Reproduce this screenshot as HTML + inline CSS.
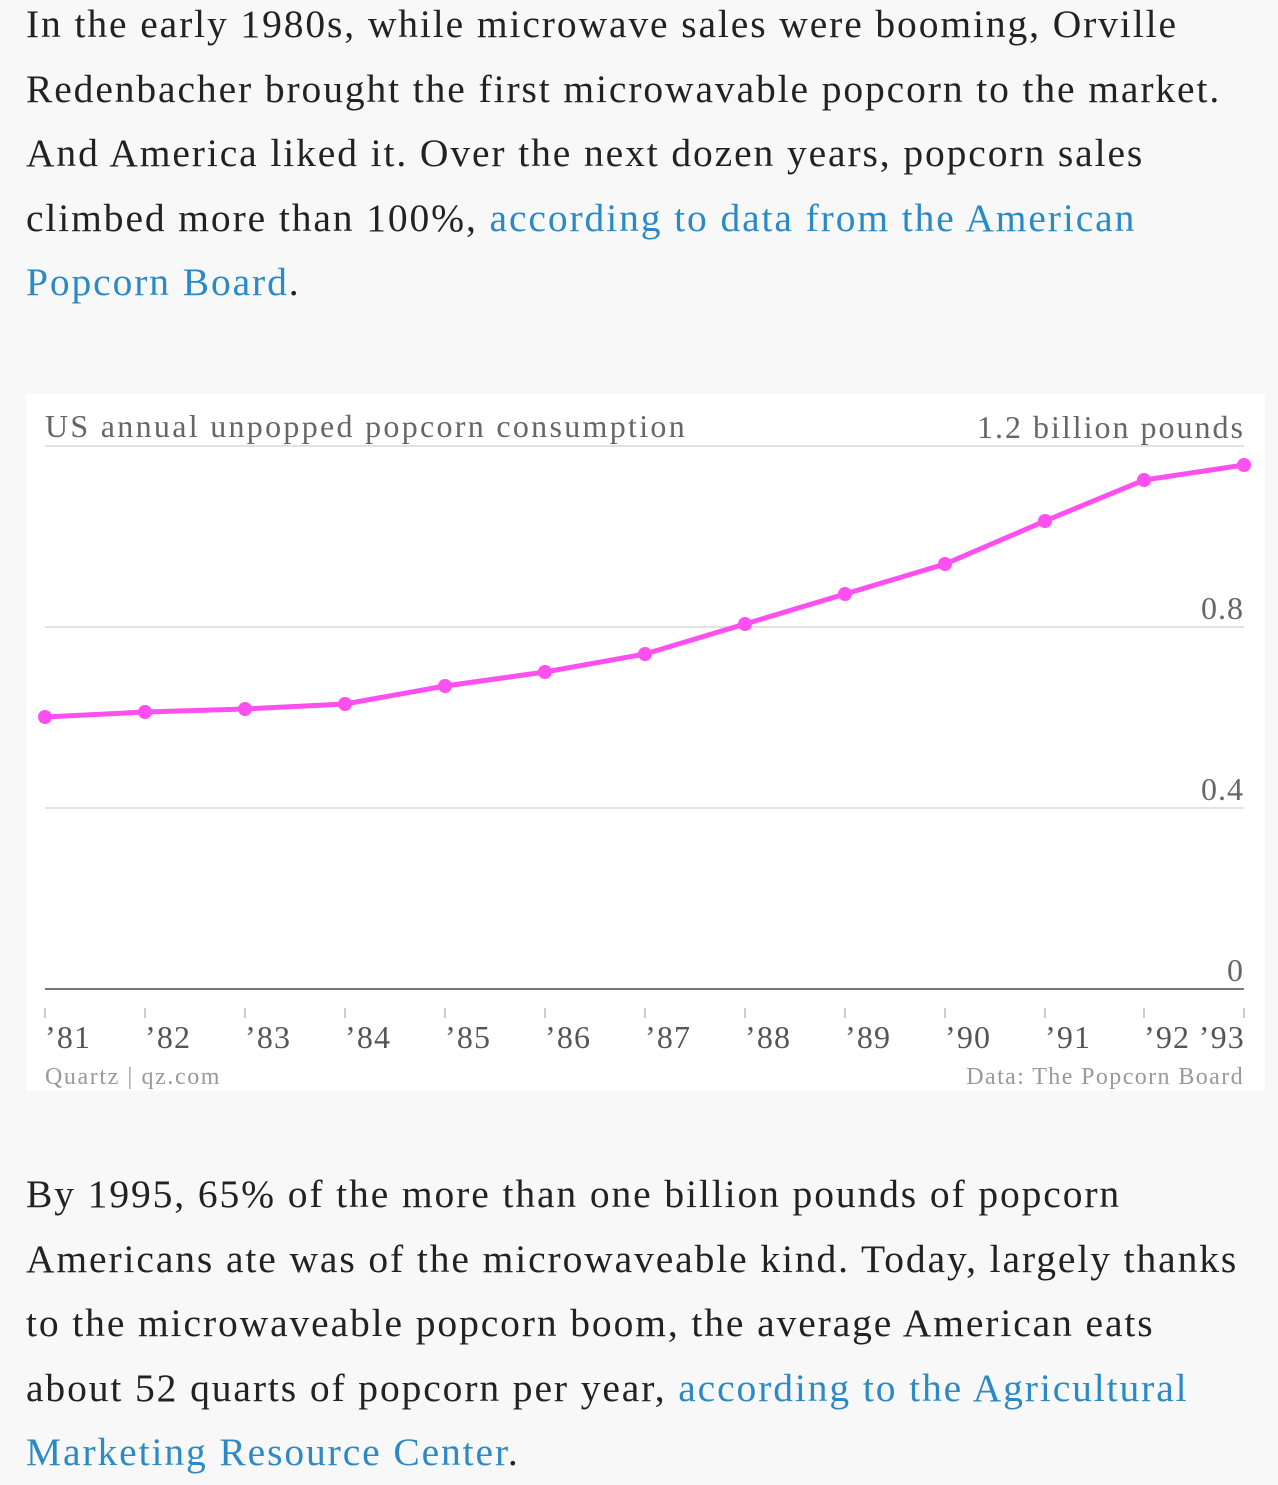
<!DOCTYPE html>
<html><head><style>
body{margin:0;width:1278px;height:1480px;background:#f8f8f8;overflow:hidden;font-family:"Liberation Serif",serif;color:#222;}
.p{position:absolute;left:26px;font-size:39.5px;letter-spacing:1.9px;line-height:64.5px;width:1252px;white-space:nowrap;}
a{color:#2b8ac6;text-decoration:none}
</style></head><body>
<div class="p" style="top:-8px">In the early 1980s, while microwave sales were booming, Orville<br>Redenbacher brought the first microwavable popcorn to the market.<br>And America liked it. Over the next dozen years, popcorn sales<br>climbed more than 100%, <a>according to data from the American<br>Popcorn Board</a>.</div>
<svg style="position:absolute;left:0;top:0" width="1278" height="1480">
<rect x="26" y="394" width="1239" height="697" fill="#fff"/>
<g stroke="#e2e2e2" stroke-width="2"><line x1="45" x2="1244" y1="446" y2="446"/><line x1="45" x2="1244" y1="627" y2="627"/><line x1="45" x2="1244" y1="808" y2="808"/></g>
<line x1="45" x2="1244" y1="989" y2="989" stroke="#777" stroke-width="2"/>
<g stroke="#ccc" stroke-width="2">
<line x1="45" x2="45" y1="1008" y2="1018"/><line x1="145" x2="145" y1="1008" y2="1018"/><line x1="245" x2="245" y1="1008" y2="1018"/><line x1="345" x2="345" y1="1008" y2="1018"/><line x1="445" x2="445" y1="1008" y2="1018"/><line x1="545" x2="545" y1="1008" y2="1018"/><line x1="645" x2="645" y1="1008" y2="1018"/><line x1="745" x2="745" y1="1008" y2="1018"/><line x1="845" x2="845" y1="1008" y2="1018"/><line x1="945" x2="945" y1="1008" y2="1018"/><line x1="1045" x2="1045" y1="1008" y2="1018"/><line x1="1144" x2="1144" y1="1008" y2="1018"/><line x1="1244" x2="1244" y1="1008" y2="1018"/>
</g>
<g font-family="Liberation Serif,serif" fill="#666" font-size="32">
<text x="45" y="437" letter-spacing="2.3">US annual unpopped popcorn consumption</text>
<text x="1245" y="438" text-anchor="end" letter-spacing="2">1.2 billion pounds</text>
<text x="1244" y="619" text-anchor="end" letter-spacing="1">0.8</text>
<text x="1244" y="800" text-anchor="end" letter-spacing="1">0.4</text>
<text x="1243" y="981" text-anchor="end">0</text>
</g>
<g font-family="Liberation Serif,serif" fill="#555" font-size="32" letter-spacing="1.2">
<text x="45" y="1048">’81</text><text x="145" y="1048">’82</text><text x="245" y="1048">’83</text><text x="345" y="1048">’84</text><text x="445" y="1048">’85</text><text x="545" y="1048">’86</text><text x="645" y="1048">’87</text><text x="745" y="1048">’88</text><text x="845" y="1048">’89</text><text x="945" y="1048">’90</text><text x="1045" y="1048">’91</text><text x="1144" y="1048">’92</text><text x="1245" y="1048" text-anchor="end">’93</text>
</g>
<g font-family="Liberation Serif,serif" fill="#999" font-size="24">
<text x="45" y="1084" letter-spacing="1.6">Quartz | qz.com</text><text x="1244" y="1084" text-anchor="end" letter-spacing="1.4">Data: The Popcorn Board</text>
</g>
<polyline fill="none" stroke="#ff4ff0" stroke-width="5" points="45,717 145,712 245,709 345,704 445,686 545,672 645,654 745,624 845,594 945,564 1045,521 1144,480 1244,465"/>
<g fill="#ff4ff0"><circle cx="45" cy="717" r="7"/><circle cx="145" cy="712" r="7"/><circle cx="245" cy="709" r="7"/><circle cx="345" cy="704" r="7"/><circle cx="445" cy="686" r="7"/><circle cx="545" cy="672" r="7"/><circle cx="645" cy="654" r="7"/><circle cx="745" cy="624" r="7"/><circle cx="845" cy="594" r="7"/><circle cx="945" cy="564" r="7"/><circle cx="1045" cy="521" r="7"/><circle cx="1144" cy="480" r="7"/><circle cx="1244" cy="465" r="7"/></g>
</svg>
<div class="p" style="top:1162px">By 1995, 65% of the more than one billion pounds of popcorn<br>Americans ate was of the microwaveable kind. Today, largely thanks<br>to the microwaveable popcorn boom, the average American eats<br>about 52 quarts of popcorn per year, <a>according to the Agricultural<br>Marketing Resource Center</a>.</div>
</body></html>
